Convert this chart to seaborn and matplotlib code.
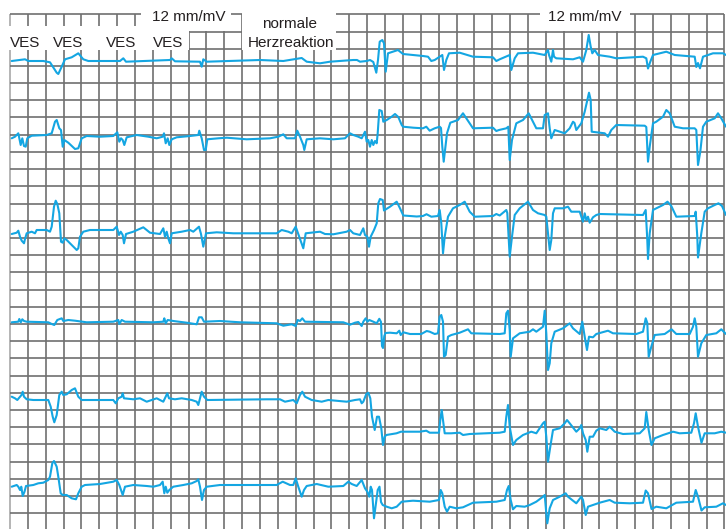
import matplotlib
matplotlib.use("Agg")
import matplotlib.pyplot as plt
from matplotlib.patches import Rectangle
import numpy as np
import pandas as pd
import seaborn as sns

# ---------------- data (time / amplitude read from the strip, px units) -------------
lead1_t = [11.7, 25, 28.3, 43.3, 50, 56.7, 58.3, 61.7, 65, 71.7, 78.3, 83.3, 88.3, 120, 123.3, 126,
           170, 171.7, 175, 200, 201.7, 203.3, 206.7, 260, 283.3, 301.7, 306.7, 320, 330, 353.3, 357,
           360, 366.7, 370, 373.3, 376.3, 378, 379.7, 382.3, 384, 385.7, 388, 398, 403, 423, 428,
           431.3, 434.7, 439.7, 442.3, 444, 446.3, 449, 459.7, 473, 493, 496.3, 499.7, 509.7, 511.3,
           514.7, 518, 533, 544.7, 548, 549, 551.3, 553, 554, 556.3, 573, 579.7, 583, 586.3, 588.7,
           590.7, 592.3, 594.7, 598, 609.7, 616.3, 643, 646.3, 648, 650.3, 653, 666.3, 674.7, 694.7,
           696.3, 698, 700, 703, 713, 723, 726]
lead1_v = [61, 59.3, 61, 61, 62.3, 72.7, 74, 66.7, 59.3, 57.3, 53.3, 59.3, 61, 61, 58.3, 61.7,
           60, 58.3, 61.3, 61.7, 66.7, 59.3, 61.7, 60, 61, 58, 61.7, 63.3, 61.7, 60, 60,
           61.7, 61, 60, 62, 72.7, 60, 41.7, 40, 43.3, 71.7, 53.3, 50, 54, 56, 56.7,
           61, 60, 56.7, 55, 70, 60, 53.3, 52.7, 56.7, 57.3, 61, 59.3, 55, 70,
           58.3, 53.3, 52.7, 55, 50, 55, 61.7, 50, 56.7, 58.3, 59.3, 57.3, 61.7, 50, 35,
           46.7, 53.3, 50, 55, 56.7, 58.3, 56.7, 58.3, 68.5, 61.7, 55, 51.7, 55, 56.7,
           67, 63, 68.3, 56.7, 53.3, 53.3, 55]

lead2_t = [11.7, 15, 18.3, 20.7, 22.3, 24, 25.7, 27.3, 31.7, 46.7, 51.7, 55, 56.7, 59.3, 61, 62.7,
           64.3, 68.3, 75, 78.3, 81.7, 86.7, 100, 113.3, 117.3, 119.3, 121, 122.7, 124.3, 126.7,
           136.7, 148.3, 156.7, 162.7, 164, 165.7, 167.7, 169.3, 171.7, 176.7, 190, 198.3, 199.3,
           201.7, 204, 205.7, 207.3, 218.3, 226.7, 246.7, 270, 278.3, 283.3, 286.7, 295, 297.3, 300,
           303.3, 304.3, 306.7, 320, 333.3, 345, 350, 353.3, 358.3, 361.7, 363.3, 365, 366.7, 368.3,
           370, 371.7, 373.3, 375, 376.7, 377.7, 379.3, 381.7, 383.3, 386.7, 391.7, 395, 398.3,
           401.7, 403, 413.3, 423, 426.3, 429.7, 434.7, 439.7, 441, 442.3, 443.7, 444.7, 447, 450.3,
           458, 463, 469.7, 473, 493, 496.3, 499, 506.3, 508.3, 509.7, 512, 516.3, 523, 528.7, 533,
           536.3, 543, 544.7, 548, 549.7, 551.3, 554.7, 559.7, 564.7, 569.7, 573, 574.5, 576.3,
           581.3, 584.7, 587.3, 589, 590.7, 591.7, 599.7, 604.7, 608, 611.3, 616.3, 644.7, 646.3,
           648, 649.7, 653, 656.3, 663, 666.3, 669.7, 674.7, 683, 694.7, 696.3, 698, 700.3, 703,
           706.3, 714.7, 718, 721.3, 726]
lead2_v = [138.3, 136.7, 133.3, 145, 138.3, 146, 146.7, 138.3, 135.7, 135, 133.3, 121.7, 120, 128.3,
           130, 146.7, 140, 142.7, 149, 148.3, 138.3, 136, 136.7, 136, 132.3, 141.7, 138.3, 140, 145,
           137.3, 135, 136.7, 138.3, 136.7, 133.3, 143.3, 138.3, 145, 139.3, 137.3, 136, 135, 130.7,
           138.3, 150, 150, 139.3, 138.3, 137.7, 139.3, 138.3, 136.7, 134.3, 138.3, 138.3, 130.7,
           136.7, 145, 150, 139.3, 138.3, 139.3, 138.3, 133.3, 135, 136.7, 138.3, 135, 131.7, 141.7,
           140, 146.7, 140, 145, 141, 143.3, 133.3, 110, 111, 121.7, 120, 116.7, 114, 117, 125,
           126.7, 127.7, 128.3, 126.7, 130.7, 128.3, 126.7, 128, 146.7, 161.7, 153.3, 133.3, 122.7,
           120, 113.3, 123.3, 128.3, 127.7, 131, 130, 128.3, 126.7, 160, 140, 123.3, 120, 113.3,
           121.7, 128.3, 128.3, 115, 113.3, 128.3, 138.3, 130, 131.7, 133.3, 128.3, 121.7, 123, 130,
           123.3, 111.7, 100, 92.7, 100, 131.7, 132.7, 133.3, 136.7, 130, 125, 125.7, 127, 161.7,
           146.7, 123.3, 121.7, 116.7, 110, 113.3, 126.7, 128.3, 128.3, 130, 165, 151.7, 126.7,
           121.7, 118.3, 113.3, 118.3, 126.7]

lead3_t = [11.7, 16.7, 18.3, 20, 21.7, 24, 25, 26.7, 31.7, 35, 36.7, 46.7, 50, 51.7, 54, 55.7, 57.3,
           59.3, 61, 62.7, 64.3, 66.7, 73.3, 76.7, 78.3, 80, 83.3, 90, 113.3, 116.7, 119, 120.7,
           122.7, 124, 126, 133.3, 143.3, 150, 160, 163.3, 165, 166.7, 168.3, 170, 171.7, 181.7,
           190, 193.3, 199, 201, 203.3, 206, 216.7, 233.3, 276.7, 281.7, 288.3, 291.7, 295.7, 298.3,
           301.7, 303.3, 305.7, 320, 325, 333.3, 346.7, 350, 353.3, 360, 363.3, 365, 367.3, 369,
           370.7, 374, 376.7, 378.3, 380, 382.7, 384, 390, 396.7, 400, 403.3, 416.7, 423, 426.5,
           431.3, 438, 439.7, 441.3, 443, 444.7, 448, 453, 459.7, 464.7, 469.7, 474.7, 493, 496.3,
           499.7, 506.3, 507.3, 509.7, 512, 514.7, 519.7, 528, 533, 538, 544.7, 546.3, 549.7, 551.3,
           553, 554.7, 563, 568, 571.3, 579.7, 583, 584.7, 586.3, 588, 589.7, 593, 596.3, 599.7,
           643, 645.7, 647.3, 648, 649.7, 653, 656.3, 663, 667.5, 671.3, 676.3, 694.7, 695.7, 697.3,
           698, 701.3, 704.7, 708, 714.7, 718.5, 722, 726]
lead3_v = [234, 232.7, 230.7, 236.7, 240.7, 243.3, 239, 233.3, 231.7, 233.3, 230, 230, 231.7, 226.7,
           206.7, 200.7, 204, 213.3, 241.7, 242.7, 238.3, 240, 246.7, 250, 248.3, 236.7, 231.7, 230,
           230, 226.7, 235, 231.7, 235, 243.3, 234, 231.7, 227.3, 232.7, 234, 228.3, 236.7, 231.7,
           238.3, 243.3, 233.3, 231.7, 230, 231.7, 226.7, 234, 246.7, 233.3, 232.3, 233.3, 233.3, 230,
           231.7, 233.3, 226.7, 234, 243.3, 248.3, 233.3, 231.7, 234, 234.3, 231.7, 230, 233.3, 235,
           228.3, 235, 236.7, 246.7, 236.7, 230, 223.3, 203.3, 199, 200, 210.5, 206.7, 201.7, 208.3,
           215.5, 216.5, 216, 214.2, 216.7, 216, 210, 223.3, 253.3, 236.7, 216.7, 208.3, 205, 201.7,
           211.7, 216.7, 216, 214, 215.5, 210, 213, 256.7, 236.7, 215, 208.3, 201.7, 210, 213.3,
           215, 216.7, 250, 240, 213.3, 208.3, 208.3, 206.7, 211.7, 211.7, 221.7, 213.3, 220, 216.7,
           222.7, 217.3, 215, 214, 215, 210, 240, 259, 233.3, 210, 208.3, 205, 201.7, 206, 216.7,
           216, 211.7, 236.7, 257.5, 233.3, 211.7, 208.3, 205, 203.3, 206, 215]

lead4_t = [11.7, 18.3, 19.3, 20.8, 22.3, 24, 26.7, 48.3, 51.7, 54.3, 57.3, 61.7, 63.3, 68.3, 75,
           86.7, 113.3, 118.3, 119.3, 121.7, 125, 153.3, 163.3, 164.3, 165.7, 167.7, 173.3, 186.7,
           196.7, 199, 201.7, 204, 220, 240, 276.7, 283.3, 291.7, 295.7, 297.7, 300, 302.3, 305,
           343.3, 350, 355, 358.3, 361.7, 363.3, 365.7, 367.5, 369.3, 373.3, 376.7, 379.3, 381, 382,
           383, 384.3, 385.5, 390, 396.7, 399.3, 400.7, 403.3, 410, 421.3, 426.7, 429.7, 434.7, 438,
           439.7, 441.3, 443, 444, 445.7, 448, 451.3, 459.7, 468, 471.3, 499.7, 504.7, 506.3, 508,
           509.7, 510.7, 513, 519.7, 529.7, 533, 536.3, 543, 544.7, 546.3, 548, 549.7, 551.3, 554.7,
           563, 569.7, 573, 579.7, 582.3, 584.7, 587, 589, 593, 596.3, 608, 613, 636.3, 643, 645.7,
           647.3, 648.7, 651.3, 654.7, 664.7, 671.5, 676.3, 689.7, 693, 694.7, 696.3, 698, 701.3,
           706.3, 716.3, 721.3, 726]
lead4_v = [322.3, 321.7, 319, 322.3, 319.3, 321, 321.7, 322.3, 324, 325, 320, 318.3, 321, 320, 320.7,
           322.3, 321.7, 320, 324, 320, 321.7, 322.3, 321.7, 318.3, 323.3, 320, 321, 322.7,
           324.3, 317.3, 317.3, 321.7, 321, 322.3, 323.3, 325.7, 324.3, 326, 320, 321, 318.3, 321.7,
           322.3, 324.7, 322.7, 322, 326, 321.7, 318.3, 321.7, 320, 321.7, 323.3, 318.8, 322, 346,
           348, 336, 333, 332.7, 333.3, 330.7, 335, 332.3, 334, 334, 331, 331.7, 334, 333.3,
           316.7, 315, 321.7, 356.7, 355, 336.7, 335, 332.7, 329.3, 333.3, 334, 333.3, 313.3, 310.7,
           330, 356.7, 338.3, 333.3, 331.7, 329.3, 331.7, 326.7, 310.7, 333.3, 370, 363.3, 343.3,
           331.7, 328.3, 323.3, 328.3, 334, 321.7, 336.7, 350, 336.7, 337.3, 334, 330.7, 333.3, 334,
           331.7, 318.3, 323, 356.7, 346.7, 335, 334, 329.3, 334, 334, 326.7, 318.3, 326.7, 356.7,
           343.3, 335, 333.3, 329.3, 334]

lead5_t = [11.7, 15, 17.3, 20, 21.5, 22.7, 24, 26.7, 33.3, 48.3, 50.7, 52.7, 54.3, 56.7, 59.3, 61.7,
           63.3, 66.7, 71.7, 75, 78.3, 81.7, 113.3, 115.7, 118.3, 121.7, 122.7, 124, 133.3, 140,
           146.7, 156.7, 160, 163.3, 165.7, 167.3, 169, 175, 181.7, 191.7, 196.7, 198.3, 200, 201.7,
           204, 207.3, 266.7, 280, 285, 293.3, 296.7, 300, 302.3, 305, 311.7, 321.7, 328.3, 346.7,
           355, 360, 361.7, 363.3, 366.3, 368.3, 370.3, 372, 374.7, 377, 379, 381.3, 383, 384.7,
           386.3, 396.5, 401, 419.7, 426.3, 429.7, 439, 440.3, 441.7, 443, 444.7, 451.3, 459.7, 463,
           469.7, 499.7, 504.7, 506.3, 508, 509.7, 513, 516.3, 523, 531.3, 536.3, 543, 544.7, 546.3,
           548, 550.3, 553, 559.7, 564.7, 567, 569.7, 576.3, 579.7, 581.3, 583, 585.7, 587.3, 589.7,
           593, 596.3, 599.7, 606.3, 609.7, 614.7, 623, 639.7, 644.7, 646.3, 648.7, 651.5, 654.7,
           663, 673, 679.7, 691.3, 694, 695.7, 698, 701.5, 704.7, 714.7, 721.3, 726]
lead5_v = [396.7, 398.3, 400, 396.7, 395, 391.7, 396.7, 399.3, 400, 400, 406.7, 416.7, 422.3, 415,
           395, 391.7, 395, 394.3, 390, 388.3, 396.7, 400, 400, 403.3, 398.3, 396.7, 393.3, 398.3,
           399.3, 398.3, 401.7, 398.3, 400, 401.7, 396.7, 393.3, 398.3, 399.3, 398.3, 400, 401.7,
           405, 398.3, 391.7, 396.7, 400, 399.3, 399.3, 401.7, 400, 403.3, 395, 391.7, 396.7, 400,
           401.7, 400, 401.7, 400, 399.3, 403.3, 401.7, 394, 392.7, 398.3, 416.7, 430, 416.7, 416.7,
           428.3, 445, 436.7, 435, 433.3, 431.7, 431.7, 430.7, 432.7, 432.7, 420, 410, 420, 433.3,
           433.3, 432.7, 435, 434, 432.7, 431.7, 416.7, 405, 426.7, 445, 440, 435, 431.7, 433.3,
           423.3, 421.7, 436.7, 461.7, 446.7, 430, 428.3, 423.3, 420, 423.3, 431.7, 428.3, 425, 433.3,
           440, 451.7, 436.7, 436.7, 430.7, 428.3, 430, 426.7, 431.7, 434, 433.3, 428.3, 412, 430,
           445, 438.3, 435, 431.7, 433.3, 432.7, 423.3, 413.3, 426.7, 442.7, 433.3, 433.3, 431.7,
           432.7]

lead6_t = [11.7, 16.7, 18.3, 20, 21.3, 22.7, 24.5, 26, 33.3, 38.3, 43.3, 48.3, 50, 52.3, 54, 56.7,
           58.3, 60.7, 62.7, 66.7, 71.7, 76, 78.3, 81.7, 85, 100, 113.3, 116.7, 119.3, 121, 122.7,
           125, 133.3, 146.7, 153.3, 160, 162.7, 164.3, 165.7, 167.3, 169.3, 173.3, 183.3, 191.7,
           196.7, 198.3, 200, 202, 204, 206.7, 220, 276.7, 282.7, 290, 293.3, 295.7, 298.3, 301.7,
           304, 306.7, 316.7, 328.3, 343.3, 348.3, 351.7, 356.7, 361.7, 365, 367.3, 369.3, 370.7,
           372, 374, 376, 377.7, 379.5, 381, 382.7, 386.7, 391.7, 396.7, 401.7, 413, 429.7, 439,
           440.7, 442.3, 444.7, 447, 449.7, 456.3, 463, 473, 496.3, 504.7, 507, 508.7, 510.7, 513,
           516.3, 524.7, 529.7, 536.3, 543, 544.7, 546.3, 547.3, 549.7, 553, 559.7, 565.7, 568,
           576.3, 581.3, 583, 585.7, 588, 593, 599.7, 609.7, 614.7, 629.7, 643, 645.7, 648, 651.5,
           656.3, 666.3, 676.3, 693, 695.7, 698, 701.5, 704.7, 716.3, 723, 726]
lead6_v = [486.7, 485, 486.7, 490, 486.7, 496, 491.7, 486, 485, 483.3, 482.7, 480, 476.7, 463.3, 461,
           466.7, 476.7, 493.3, 495, 495, 498.3, 499.3, 493.3, 486.7, 485, 484, 481.7, 480, 485, 490,
           495, 486.7, 485, 486, 486.7, 485, 481.7, 493.3, 486.7, 492.7, 490, 486.7, 485, 483.3,
           481, 479.3, 486.7, 500, 490, 486.7, 485, 485, 481.7, 485, 485, 478.3, 486.7, 496.7,
           490, 486, 484, 486.7, 486, 481.7, 484, 486, 480, 488.3, 491.7, 496.7, 486.7,
           490, 518.3, 503.3, 490, 486.7, 502, 505, 506.7, 508.3, 506.7, 501.7, 500.7, 501.7, 500,
           490, 493.3, 506.7, 511.7, 506.7, 508.3, 507.3, 502.7, 501.7, 500, 490, 486, 500, 509.3,
           506, 506.7, 505, 501.7, 496.7, 495, 513.3, 523.3, 508.3, 500, 496.7, 493.3, 496.7,
           503.3, 496.7, 500, 515, 506.7, 505, 502.7, 500, 502.7, 503.3, 502.7, 490.5, 493.3, 509,
           506.7, 508.3, 502.7, 501.7, 490, 496.7, 510.5, 507.3, 506.7, 503.3, 505]

ves_labels = ["VES", "VES", "VES", "VES"]
scale_label = "12 mm/mV"
normal_label = ["normale", "Herzreaktion"]

# ---------------- figure ----------------
sns.set_style("white")
plt.rcParams["font.family"] = ["Liberation Sans", "DejaVu Sans"]

W, H = 726, 529
fig = plt.figure(figsize=(W / 100, H / 100), dpi=100)
ax = fig.add_axes([0, 0, 1, 1])
ax.set_xlim(0, W)
ax.set_ylim(H, 0)
ax.axis("off")

# ECG paper grid
X0, DX, NXL = 10.0, 17.86, 41
Y0, DY, NYL = 14.3, 17.2, 30
gx = X0 + DX * np.arange(NXL)
gy = Y0 + DY * np.arange(NYL)
grid_c = "#707070"
ax.vlines(gx[1:], Y0, H, colors=grid_c, lw=1.2, zorder=1)
ax.vlines(gx[:1], Y0, H, colors="#a8a8a8", lw=1.2, zorder=1)
ax.hlines(gy, X0, gx[-1], colors=grid_c, lw=1.2, zorder=1)

# header cut-outs for the labels
for (x0, y0, x1, y1) in [(140.5, -1, 231, 30.6), (-1, 25.5, 188.8, 49.6),
                         (241.5, -1, 336, 49.6), (540, -1, 630, 30.6)]:
    ax.add_patch(Rectangle((x0, y0), x1 - x0, y1 - y0, facecolor="white",
                           edgecolor="none", zorder=2))

# traces
leads = [(lead1_t, lead1_v), (lead2_t, lead2_v), (lead3_t, lead3_v),
         (lead4_t, lead4_v), (lead5_t, lead5_v), (lead6_t, lead6_v)]
frames = []
for i, (t, v) in enumerate(leads):
    frames.append(pd.DataFrame({"lead": i, "t": t, "v": v}))
df = pd.concat(frames, ignore_index=True)
sns.lineplot(data=df, x="t", y="v", units="lead", estimator=None, sort=False,
             color="#14a6e2", lw=1.5, ax=ax, zorder=3, legend=False)
ax.set_xlim(0, W)
ax.set_ylim(H, 0)
ax.axis("off")

tc = "#231f20"
fs = 11
for x, lab in zip([25, 67.7, 121, 168], ves_labels):
    ax.text(x, 46.7, lab, ha="center", va="baseline", fontsize=fs, color=tc, zorder=4)
ax.text(188.7, 20.7, scale_label, ha="center", va="baseline", fontsize=fs, color=tc, zorder=4)
ax.text(584.7, 20.7, scale_label, ha="center", va="baseline", fontsize=fs, color=tc, zorder=4)
ax.text(290, 28.3, normal_label[0], ha="center", va="baseline", fontsize=fs, color=tc, zorder=4)
ax.text(290.8, 46.7, normal_label[1], ha="center", va="baseline", fontsize=fs, color=tc, zorder=4)

fig.savefig("out.png", dpi=100)
